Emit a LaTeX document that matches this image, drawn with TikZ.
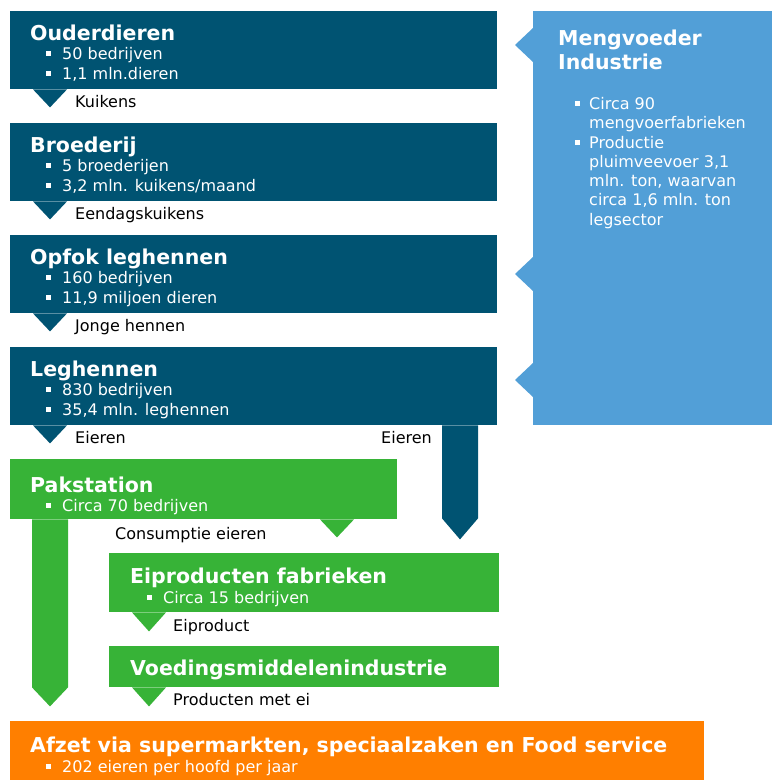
\documentclass[tikz,border=0pt]{standalone}
\usepackage{fontspec}
\setmainfont{DejaVu Sans}

\definecolor{donker}{HTML}{005372}
\definecolor{licht}{HTML}{529FD7}
\definecolor{groen}{HTML}{37B337}
\definecolor{oranje}{HTML}{FF7F00}

\newcommand{\bul}[1][16pt]{\makebox[#1][l]{\rule[3.5pt]{4.5pt}{4.5pt}}}

\begin{document}
\begin{tikzpicture}[x=1pt,y=-1pt]
    \tikzstyle{blok} = [rectangle,inner sep=0pt,anchor=north west]
    \tikzstyle{kop} = [inner sep=0pt,anchor=base west,text=white,font=\fontsize{20.5}{24}\selectfont\bfseries]
    \tikzstyle{punt} = [inner sep=0pt,anchor=base west,text=white,font=\fontsize{16}{19}\selectfont]
    \tikzstyle{stroom} = [inner sep=0pt,anchor=base west,text=black,font=\fontsize{16}{19}\selectfont]
    \useasboundingbox (0,0) rectangle (772,780);
    % blokken
    \node [blok,fill=donker,minimum width=487pt,minimum height=78pt] (oud) at (10,11) {};
    \node [blok,fill=donker,minimum width=487pt,minimum height=78pt] (broed) at (10,123) {};
    \node [blok,fill=donker,minimum width=487pt,minimum height=78pt] (opfok) at (10,235) {};
    \node [blok,fill=donker,minimum width=487pt,minimum height=78pt] (leg) at (10,347) {};
    \node [blok,fill=licht,minimum width=239pt,minimum height=414pt] (meng) at (533,11) {};
    \node [blok,fill=groen,minimum width=387pt,minimum height=60pt] (pak) at (10,459) {};
    \node [blok,fill=groen,minimum width=390pt,minimum height=59pt] (eipr) at (109,553) {};
    \node [blok,fill=groen,minimum width=390pt,minimum height=41pt] (voed) at (109,646) {};
    \node [blok,fill=oranje,minimum width=694pt,minimum height=59pt] (afzet) at (10,721) {};
    % pijlen
    \fill [donker] (oud.south west) ++(23,0) -- ++(34,0) -- ++(-17,18) -- cycle;
    \fill [donker] (broed.south west) ++(23,0) -- ++(34,0) -- ++(-17,18) -- cycle;
    \fill [donker] (opfok.south west) ++(23,0) -- ++(34,0) -- ++(-17,18) -- cycle;
    \fill [donker] (leg.south west) ++(23,0) -- ++(34,0) -- ++(-17,18) -- cycle;
    \fill [donker] (leg.south west) ++(432,0) -- ++(36,0) -- ++(0,93) -- ++(-18,21) -- ++(-18,-21) -- cycle;
    \fill [groen] (pak.south west) ++(22,0) -- ++(36,0) -- ++(0,168) -- ++(-18,19) -- ++(-18,-19) -- cycle;
    \fill [groen] (pak.south west) ++(310,0) -- ++(34,0) -- ++(-17,18) -- cycle;
    \fill [groen] (eipr.south west) ++(23,0) -- ++(34,0) -- ++(-17,19) -- cycle;
    \fill [groen] (voed.south west) ++(23,0) -- ++(34,0) -- ++(-17,19) -- cycle;
    \fill [licht] (meng.north west) ++(0,17) -- ++(-18,17) -- ++(18,17) -- cycle;
    \fill [licht] (meng.north west) ++(0,246) -- ++(-18,17) -- ++(18,17) -- cycle;
    \fill [licht] (meng.north west) ++(0,352) -- ++(-18,17) -- ++(18,17) -- cycle;
    % teksten
    \node [kop] (oudKop) at (30,40) {Ouderdieren};
    \node [punt] (oud1) at (46,59) {\bul 50 bedrijven};
    \node [punt] (oud2) at (46,79) {\bul 1,1 mln.dieren};
    \node [stroom] (kuikens) at (75,107) {Kuikens};
    \node [kop] (broedKop) at (30,152) {Broederij};
    \node [punt] (broed1) at (46,171) {\bul 5 broederijen};
    \node [punt] (broed2) at (46,191) {\bul 3,2 mln. kuikens/maand};
    \node [stroom] (eendag) at (75,219) {Eendagskuikens};
    \node [kop] (opfokKop) at (30,264) {Opfok leghennen};
    \node [punt] (opfok1) at (46,283) {\bul 160 bedrijven};
    \node [punt] (opfok2) at (46,303) {\bul 11,9 miljoen dieren};
    \node [stroom] (jonge) at (75,331) {Jonge hennen};
    \node [kop] (legKop) at (30,376) {Leghennen};
    \node [punt] (leg1) at (46,395) {\bul 830 bedrijven};
    \node [punt] (leg2) at (46,415) {\bul 35,4 mln. leghennen};
    \node [stroom] (eierenL) at (75,443) {Eieren};
    \node [stroom] (eierenR) at (381,443) {Eieren};
    \node [kop] (pakKop) at (30,492) {Pakstation};
    \node [punt] (pak1) at (46,511) {\bul Circa 70 bedrijven};
    \node [stroom] (consumptie) at (115,539) {Consumptie eieren};
    \node [kop] (eiprKop) at (130,583) {Eiproducten fabrieken};
    \node [punt] (eipr1) at (147,603) {\bul Circa 15 bedrijven};
    \node [stroom] (eiproduct) at (173,631) {Eiproduct};
    \node [kop] (voedKop) at (130,675) {Voedingsmiddelenindustrie};
    \node [stroom] (metei) at (173,705) {Producten met ei};
    \node [kop] (afzetKop) at (30,752) {Afzet via supermarkten, speciaalzaken en Food service};
    \node [punt] (afzet1) at (46,772) {\bul 202 eieren per hoofd per jaar};
    \node [kop] (mengKop1) at (558,45) {Mengvoeder};
    \node [kop] (mengKop2) at (558,69) {Industrie};
    \node [punt] (meng1) at (575,109) {\bul[14pt]Circa 90};
    \node [punt] (meng2) at (589,128) {mengvoerfabrieken};
    \node [punt] (meng3) at (575,148) {\bul[14pt]Productie};
    \node [punt] (meng4) at (589,167) {pluimveevoer 3,1};
    \node [punt] (meng5) at (589,186) {mln. ton, waarvan};
    \node [punt] (meng6) at (589,205) {circa 1,6 mln. ton};
    \node [punt] (meng7) at (589,225) {legsector};
\end{tikzpicture}
\end{document}
